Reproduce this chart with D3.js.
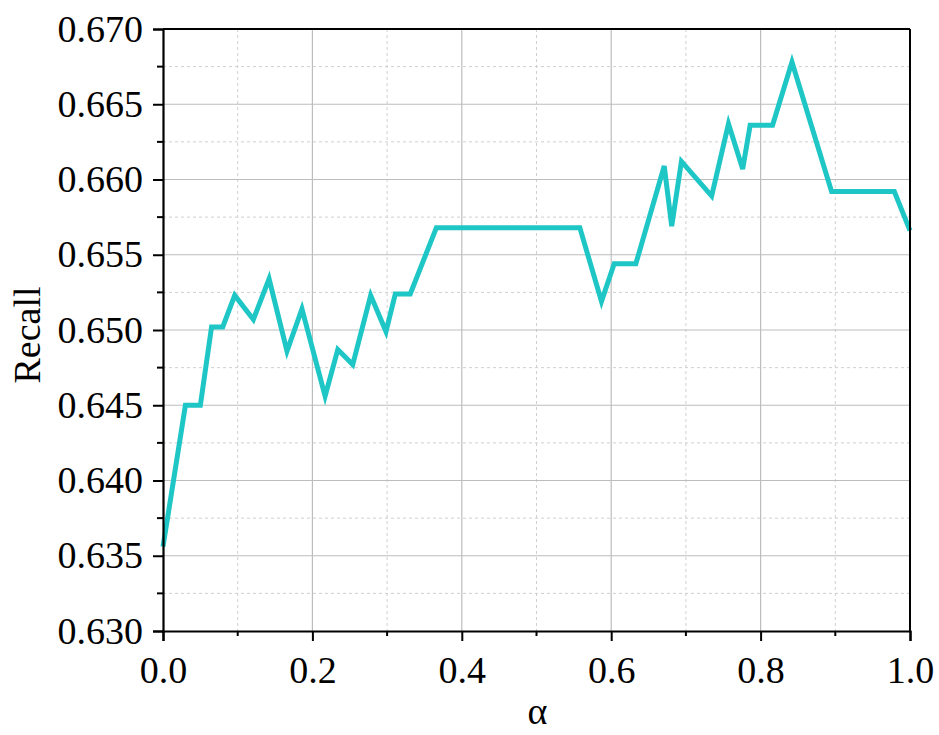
<!DOCTYPE html>
<html>
<head>
<meta charset="utf-8">
<script src="https://cdn.jsdelivr.net/npm/d3@7"></script>
<style>
  html, body { margin: 0; padding: 0; background: #fff; }
  svg { display: block; }
  text { font-family: "Liberation Serif", "Times New Roman", serif; fill: #000; }
</style>
</head>
<body>
<svg id="chart" width="939" height="735"></svg>
<script>
// ---- data ----
const alphaValues = [0.0, 0.03, 0.05, 0.065, 0.08, 0.096, 0.121, 0.142, 0.166, 0.186,
  0.217, 0.234, 0.254, 0.278, 0.2985, 0.311, 0.331, 0.366, 0.558, 0.587,
  0.604, 0.633, 0.671, 0.681, 0.694, 0.7345, 0.757, 0.776, 0.786, 0.816,
  0.842, 0.895, 0.979, 1.0];
const recallValues = [0.6356, 0.6450, 0.6450, 0.6502, 0.6502, 0.6523, 0.6507, 0.6534, 0.6486, 0.6514,
  0.6456, 0.6487, 0.6477, 0.6523, 0.6499, 0.6524, 0.6524, 0.6568, 0.6568, 0.6519,
  0.6544, 0.6544, 0.6609, 0.6569, 0.6612, 0.6589, 0.6637, 0.6607, 0.6636, 0.6636,
  0.6678, 0.6592, 0.6592, 0.6566];
const xTickValues = [0, 0.2, 0.4, 0.6, 0.8, 1.0];
const xMinorTicks = [0.1, 0.3, 0.5, 0.7, 0.9];
const yTickValues = [0.630, 0.635, 0.640, 0.645, 0.650, 0.655, 0.660, 0.665, 0.670];
const yMinorTicks = [0.6325, 0.6375, 0.6425, 0.6475, 0.6525, 0.6575, 0.6625, 0.6675];
const xLabel = "α";
const yLabel = "Recall";

// ---- layout ----
const L = 163, R = 910, T = 29, B = 631;
const svg = d3.select("#chart");
const x = d3.scaleLinear().domain([0, 1]).range([L, R]);
const y = d3.scaleLinear().domain([0.630, 0.670]).range([B, T]);

// grid: minor dashed
const grid = svg.append("g");
grid.selectAll(".vminor").data(xMinorTicks).enter().append("line")
  .attr("x1", d => x(d)).attr("x2", d => x(d)).attr("y1", T).attr("y2", B)
  .attr("stroke", "#cfcfcf").attr("stroke-width", 1).attr("stroke-dasharray", "3,3");
grid.selectAll(".hminor").data(yMinorTicks).enter().append("line")
  .attr("y1", d => y(d)).attr("y2", d => y(d)).attr("x1", L).attr("x2", R)
  .attr("stroke", "#cfcfcf").attr("stroke-width", 1).attr("stroke-dasharray", "3,3");
// grid: major solid
grid.selectAll(".vmajor").data(xTickValues.slice(1, -1)).enter().append("line")
  .attr("x1", d => x(d)).attr("x2", d => x(d)).attr("y1", T).attr("y2", B)
  .attr("stroke", "#bdbdbd").attr("stroke-width", 1.2);
grid.selectAll(".hmajor").data(yTickValues.slice(1, -1)).enter().append("line")
  .attr("y1", d => y(d)).attr("y2", d => y(d)).attr("x1", L).attr("x2", R)
  .attr("stroke", "#bdbdbd").attr("stroke-width", 1.2);

// data line
const line = d3.line().x((d, i) => x(alphaValues[i])).y(d => y(d));
svg.append("path").datum(recallValues)
  .attr("d", line)
  .attr("fill", "none")
  .attr("stroke", "#1fc6c6")
  .attr("stroke-width", 5)
  .attr("stroke-linejoin", "miter")
  .attr("stroke-miterlimit", 4);

// frame top/right
svg.append("line").attr("x1", L).attr("x2", R).attr("y1", T).attr("y2", T)
  .attr("stroke", "#000").attr("stroke-width", 2);
svg.append("line").attr("x1", R).attr("x2", R).attr("y1", T).attr("y2", B)
  .attr("stroke", "#000").attr("stroke-width", 2);

// axes
const xAxis = svg.append("g").attr("transform", `translate(0,${B})`)
  .call(d3.axisBottom(x).tickValues(xTickValues).tickFormat(d3.format(".1f")).tickSize(10).tickPadding(15));
const yAxis = svg.append("g").attr("transform", `translate(${L},0)`)
  .call(d3.axisLeft(y).tickValues(yTickValues).tickFormat(d3.format(".3f")).tickSize(10).tickPadding(10));
[xAxis, yAxis].forEach(g => {
  g.select(".domain").attr("stroke", "#000").attr("stroke-width", 2.2);
  g.selectAll(".tick line").attr("stroke", "#000").attr("stroke-width", 2);
  g.selectAll(".tick text").style("font-family", '"Liberation Serif", serif').style("font-size", "38px").attr("fill", "#000");
});
// minor ticks
svg.append("g").selectAll("line").data(xMinorTicks).enter().append("line")
  .attr("x1", d => x(d)).attr("x2", d => x(d)).attr("y1", B).attr("y2", B + 5)
  .attr("stroke", "#000").attr("stroke-width", 2);
svg.append("g").selectAll("line").data(yMinorTicks).enter().append("line")
  .attr("y1", d => y(d)).attr("y2", d => y(d)).attr("x1", L).attr("x2", L - 6)
  .attr("stroke", "#000").attr("stroke-width", 2);

// axis labels
svg.append("text").attr("x", (L + R) / 2 + 1).attr("y", 724)
  .attr("text-anchor", "middle").style("font-size", "38px").text(xLabel);
svg.append("text").attr("transform", `translate(40,${(T + B) / 2 + 5}) rotate(-90)`)
  .attr("text-anchor", "middle").style("font-size", "38px").text(yLabel);
</script>
</body>
</html>
